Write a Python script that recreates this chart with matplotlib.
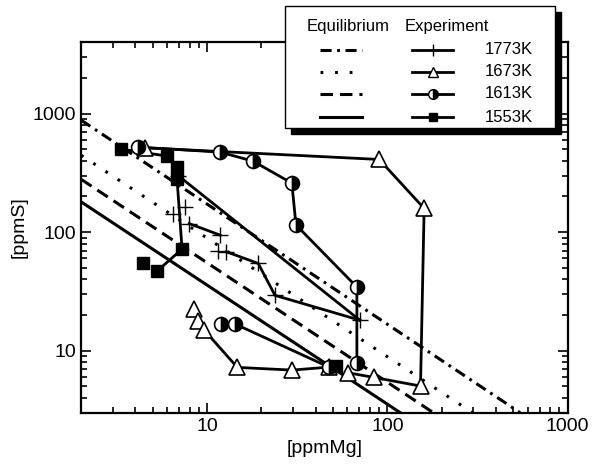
#!/usr/bin/env python3

import matplotlib
matplotlib.use('Agg')
import matplotlib.pyplot as plt
from matplotlib.lines import Line2D
from matplotlib.patches import Rectangle

plt.rcParams['font.family'] = ['Liberation Sans', 'DejaVu Sans']
plt.rcParams['lines.scale_dashes'] = False

# equilibrium lines: end points
eq_labels = ['1773K', '1673K', '1613K', '1553K']
eq_x0 = [2, 2, 2, 2]
eq_y0 = [880, 445, 279, 180]
eq_x1 = [545, 297, 180, 118]
eq_y1 = [3, 3, 3, 3]
eq_styles = [(0, (8, 4, 2, 4)), (0, (2, 8.5)), (0, (9, 5)), '-']

# experiment 1773K (crosses)
cr_x = [7.54, 6.49, 7.96, 11.8, 11.5, 12.8, 19.2, 23.8, 70.3, 6.9]
cr_y = [162, 142, 118, 94.4, 69.6, 68.3, 54.5, 29.3, 18.1, 300]
cr_paths = [[2, 3], [5, 6, 7, 8], [9, 8]]

# experiment 1673K (open triangles)
tr_x = [8.46, 8.93, 9.65, 14.7, 29.6, 47.4, 60.6, 84.1, 152.6, 159.8, 90, 4.53]
tr_y = [22.3, 17.9, 14.9, 7.24, 6.87, 7.28, 6.52, 5.96, 5.04, 158.5, 410, 514]
tr_paths = [[2, 3, 4, 5], [6, 7, 8, 9, 10, 11]]

# experiment 1613K (half filled circles)
ci_x = [4.14, 11.8, 17.96, 29.5, 31.1, 67.7, 67.7, 11.9, 14.3, 47.4]
ci_y = [521, 473, 397, 259, 115, 34.4, 7.87, 16.8, 16.8, 7.28]
ci_paths = [[0, 1, 2, 3, 4, 5, 6], [8, 9]]

# experiment 1553K (filled squares)
sq_x = [3.33, 5.99, 6.81, 6.81, 7.26, 5.28, 4.41, 51.8]
sq_y = [501, 438, 353, 280, 72, 47, 55, 7.4]
sq_paths = [[0, 1, 2, 3, 4, 5]]

fig = plt.figure(figsize=(5.92, 4.68), dpi=100)
ax = fig.add_axes([0.137, 0.118, 0.822, 0.792])

for x0, y0, x1, y1, ls in zip(eq_x0, eq_y0, eq_x1, eq_y1, eq_styles):
    ax.plot([x0, x1], [y0, y1], color='k', lw=2.2, linestyle=ls,
            dash_capstyle='butt')


def draw_series(xs, ys, paths, **mk):
    for p in paths:
        ax.plot([xs[i] for i in p], [ys[i] for i in p], color='k', lw=2.0,
                zorder=3)
    ax.plot(xs, ys, linestyle='none', zorder=4, **mk)


draw_series(cr_x, cr_y, cr_paths, marker='+', ms=11, mew=1.0, color='k')
draw_series(tr_x, tr_y, tr_paths, marker='^', ms=11, mew=1.2,
            mfc='white', mec='k')
draw_series(ci_x, ci_y, ci_paths, marker='o', ms=10, mew=1.2, mec='k',
            mfc='k', mfcalt='white', fillstyle='right')
draw_series(sq_x, sq_y, sq_paths, marker='s', ms=8, mfc='k', mec='k')

ax.set_xscale('log')
ax.set_yscale('log')
ax.set_xlim(2, 1000)
ax.set_ylim(3, 4000)
ax.set_xticks([10, 100, 1000])
ax.set_xticklabels(['10', '100', '1000'])
ax.set_yticks([10, 100, 1000])
ax.set_yticklabels(['10', '100', '1000'])
ax.tick_params(which='both', direction='in', top=True, right=True,
               labelsize=14, width=1.2)
ax.tick_params(which='major', length=7)
ax.tick_params(which='minor', length=4)
for s in ax.spines.values():
    s.set_linewidth(1.6)
ax.set_xlabel('[ppmMg]', fontsize=14, labelpad=4)
ax.set_ylabel('[ppmS]', fontsize=14, labelpad=4)

# hand made legend box with shadow
W, H = 592.0, 468.0
bx0, bx1, by0, by1 = 285 / W, 555 / W, 1 - 128 / H, 1 - 6 / H
fig.patches.append(Rectangle((bx0 + 6 / W, by0 - 6 / H), bx1 - bx0, by1 - by0,
                             transform=fig.transFigure, facecolor='k',
                             edgecolor='k', zorder=5))
fig.patches.append(Rectangle((bx0, by0), bx1 - bx0, by1 - by0,
                             transform=fig.transFigure, facecolor='white',
                             edgecolor='k', lw=1.0, zorder=6))
fig.text(307 / W, 1 - 27 / H, 'Equilibrium', fontsize=12, va='center',
         zorder=7)
fig.text(405 / W, 1 - 27 / H, 'Experiment', fontsize=12, va='center',
         zorder=7)
row_y = [50, 72, 94, 117]
mk_specs = [dict(marker='+', ms=8, mew=1.0, color='k'),
            dict(marker='^', ms=7, mew=1.0, mfc='white', mec='k'),
            dict(marker='o', ms=7, mew=1.0, mec='k', mfc='k',
                 mfcalt='white', fillstyle='right'),
            dict(marker='s', ms=6, mfc='k', mec='k')]
for ry, ls, lab, mk in zip(row_y, eq_styles, eq_labels, mk_specs):
    yy = 1 - ry / H
    fig.lines.append(Line2D([320 / W, 362 / W], [yy, yy], color='k', lw=2.2,
                            linestyle=ls, transform=fig.transFigure,
                            zorder=7))
    fig.lines.append(Line2D([412 / W, 453 / W], [yy, yy], color='k', lw=2.0,
                            transform=fig.transFigure, zorder=7))
    fig.lines.append(Line2D([433 / W], [yy], linestyle='none',
                            transform=fig.transFigure, zorder=8, **mk))
    fig.text(485 / W, yy, lab, fontsize=12, va='center', zorder=7)

fig.savefig('out.png', dpi=100)
